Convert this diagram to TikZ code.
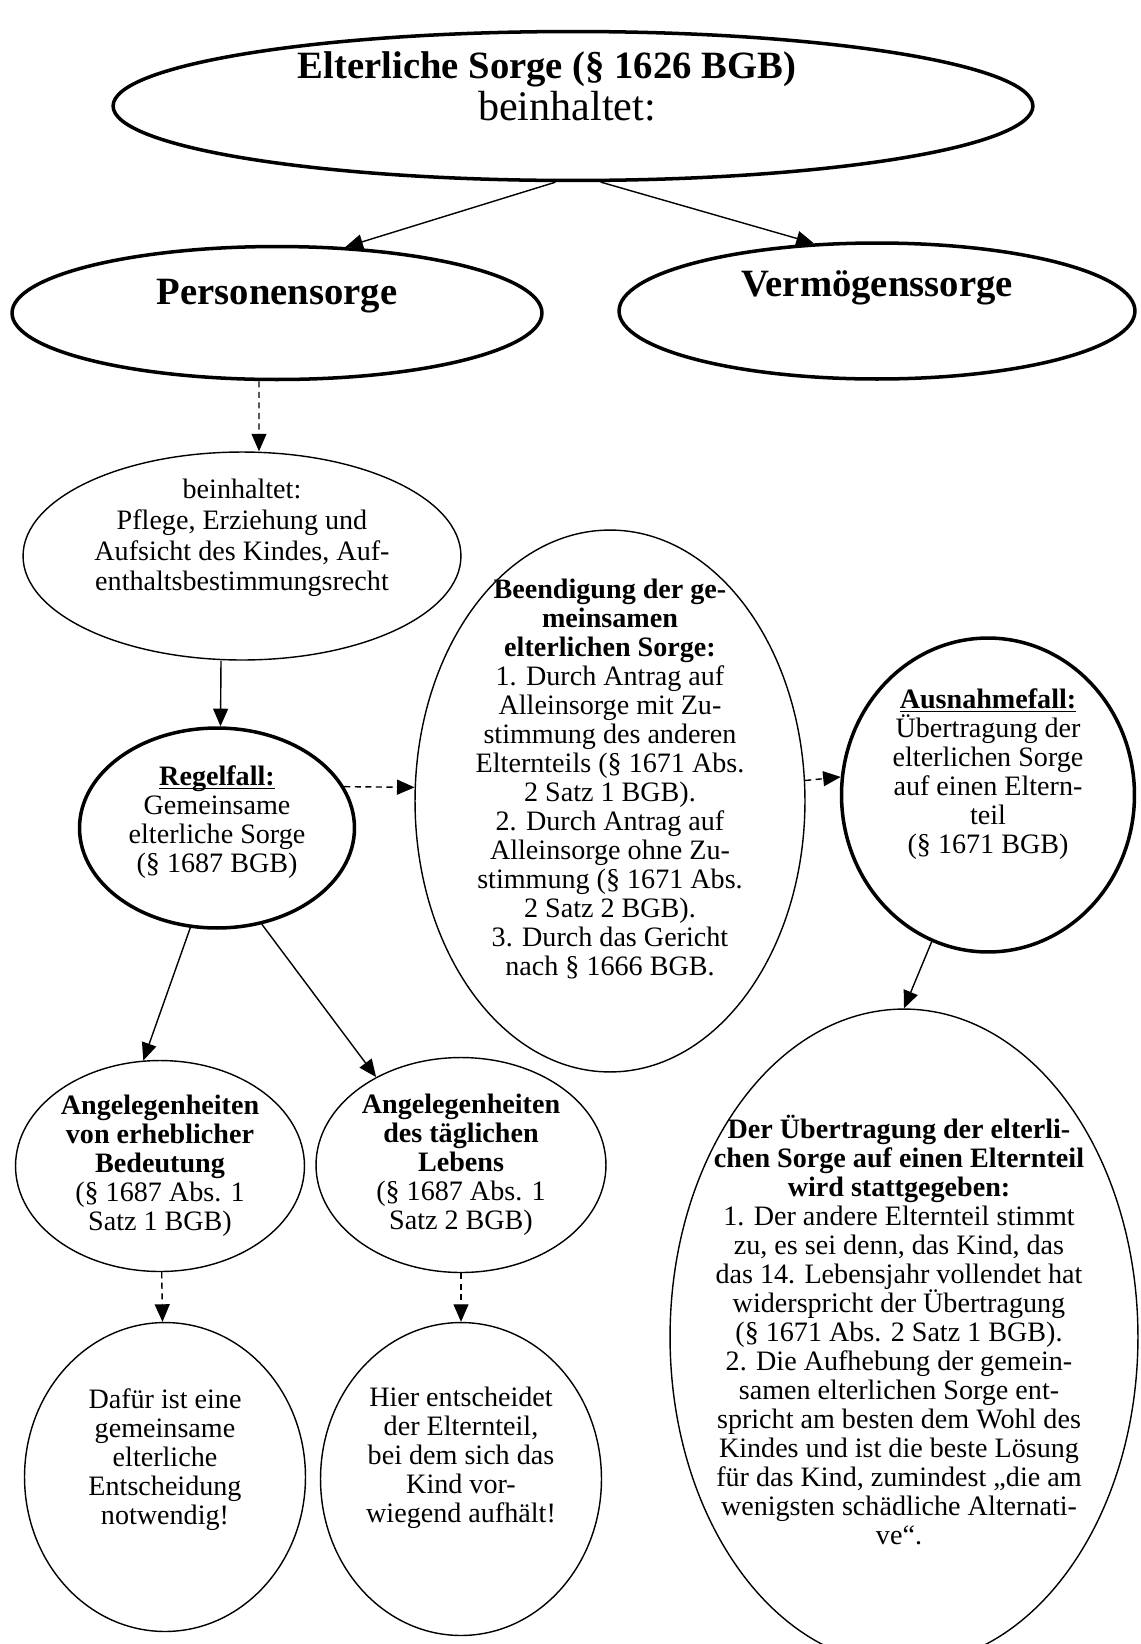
\documentclass[tikz,border=0pt]{standalone}
\usepackage{fontspec}
\setmainfont{Liberation Serif}
\usepackage{tikz}
\usetikzlibrary{shapes.geometric, arrows.meta}
\tikzset{->, >={Triangle[length=10pt, width=8.5pt]}}
\tikzset{
  oval/.style = {ellipse, draw, inner sep=0pt, line width=0.8pt},
  heavy oval/.style = {oval, line width=2pt},
  dash line/.style = {dash pattern=on 3.5pt off 2.5pt},
  txt/.style = {align=center, font=\fontsize{16}{16.5}\selectfont},
  big txt/.style = {align=center, font=\fontsize{22}{24}\selectfont}
}
\newcommand{\uhead}[1]{\underline{\smash{\textbf{#1}}}\vphantom{\textbf{#1}}}

\begin{document}
\begin{tikzpicture}[x=0.02cm, y=-0.02cm, line width=0.8pt]
    \useasboundingbox (0,0) rectangle (1140,1644);
    \clip (0,0) rectangle (1140,1644);

    \node[heavy oval, minimum width=18.4cm, minimum height=2.98cm,
          label={[big txt, xshift=-0.12cm, yshift=0.4cm]center:\textbf{Elterliche Sorge (§ 1626 BGB)}\hspace*{0.8cm}\\{\fontsize{24}{24}\selectfont beinhaltet:}}]
          (1) at (573,106) {};
    \node[heavy oval, minimum width=10.6cm, minimum height=2.66cm,
          label={[big txt, yshift=0.34cm]center:\textbf{Personensorge}}] (2) at (277,313) {};
    \node[heavy oval, minimum width=10.32cm, minimum height=2.72cm,
          label={[big txt, yshift=0.46cm]center:\textbf{Vermögenssorge}}] (3) at (877,311) {};

    \node[oval, minimum width=8.76cm, minimum height=4.16cm,
          label={[txt, font=\fontsize{16}{17.5}\selectfont, yshift=0.36cm]center:beinhaltet:\\Pflege, Erziehung und\\Aufsicht des Kindes, Auf-\\enthaltsbestimmungsrecht}]
          (4) at (242,556) {};
    \node[heavy oval, minimum width=5.5cm, minimum height=4cm,
          label={[txt, yshift=0.12cm]center:\uhead{Regelfall:}\\Gemeinsame\\elterliche Sorge\\(§ 1687 BGB)}]
          (5) at (217,828) {};
    \node[oval, minimum width=7.8cm, minimum height=10.84cm,
          label={[txt, yshift=0.44cm]center:\textbf{Beendigung der ge-}\\\textbf{meinsamen}\\\textbf{elterlichen Sorge:}\\
          1. Durch Antrag auf\\Alleinsorge mit Zu-\\stimmung des anderen\\Elternteils (§ 1671 Abs.\\2 Satz 1 BGB).\\
          2. Durch Antrag auf\\Alleinsorge ohne Zu-\\stimmung (§ 1671 Abs.\\2 Satz 2 BGB).\\
          3. Durch das Gericht\\nach § 1666 BGB.}]
          (6) at (610,801) {};
    \node[heavy oval, minimum width=5.86cm, minimum height=6.28cm,
          label={[txt, yshift=0.42cm]center:\uhead{Ausnahmefall:}\\Übertragung der\\elterlichen Sorge\\auf einen Eltern-\\teil\\(§ 1671 BGB)}]
          (7) at (988,795) {};

    \node[oval, minimum width=5.78cm, minimum height=4.22cm,
          label={[txt]center:\textbf{Angelegenheiten}\\\textbf{von erheblicher}\\\textbf{Bedeutung}\\(§ 1687 Abs. 1\\Satz 1 BGB)}]
          (8) at (160,1166) {};
    \node[oval, minimum width=5.8cm, minimum height=4.3cm,
          label={[txt]center:\textbf{Angelegenheiten}\\\textbf{des täglichen}\\\textbf{Lebens}\\(§ 1687 Abs. 1\\Satz 2 BGB)}]
          (9) at (461,1165) {};
    \node[oval, minimum width=5.62cm, minimum height=6.18cm,
          label={[txt, yshift=0.34cm]center:Dafür ist eine\\gemeinsame\\elterliche\\Entscheidung\\notwendig!}]
          (10) at (165,1477) {};
    \node[oval, minimum width=5.62cm, minimum height=6.26cm,
          label={[txt, yshift=0.42cm]center:Hier entscheidet\\der Elternteil,\\bei dem sich das\\Kind vor-\\wiegend aufhält!}]
          (11) at (461,1479) {};
    \node[oval, minimum width=9.36cm, minimum height=13.12cm,
          label={[txt, xshift=-0.1cm, yshift=0.14cm]center:\textbf{Der Übertragung der elterli-}\\\textbf{chen Sorge auf einen Elternteil}\\\textbf{wird stattgegeben:}\\
          1. Der andere Elternteil stimmt\\zu, es sei denn, das Kind, das\\das 14. Lebensjahr vollendet hat\\widerspricht der Übertragung\\(§ 1671 Abs. 2 Satz 1 BGB).\\
          2. Die Aufhebung der gemein-\\samen elterlichen Sorge ent-\\spricht am besten dem Wohl des\\Kindes und ist die beste Lösung\\für das Kind, zumindest „die am\\wenigsten schädliche Alternati-\\ve“.}]
          (12) at (904,1337) {};

    \draw (1.257) -- (2.44);
    \draw (1.290) -- (3.133);
    \draw[dash line] ([xshift=-0.36cm]2.south) -- ([xshift=0.34cm]4.north);
    \draw ([xshift=-0.42cm]4.south) -- ([xshift=0.07cm]5.north);
    \draw[dash line] (5.18) -- (6.176.2);
    \draw[dash line] (6.6.75) -- (7.173.3);
    \draw (7.249.3) -- (12.north);
    \draw (5.255.5) -- (8.99.2);
    \draw (5.295.7) -- (9.134);
    \draw[dash line] (8) -- (10);
    \draw[dash line] (9) -- (11);
\end{tikzpicture}
\end{document}
